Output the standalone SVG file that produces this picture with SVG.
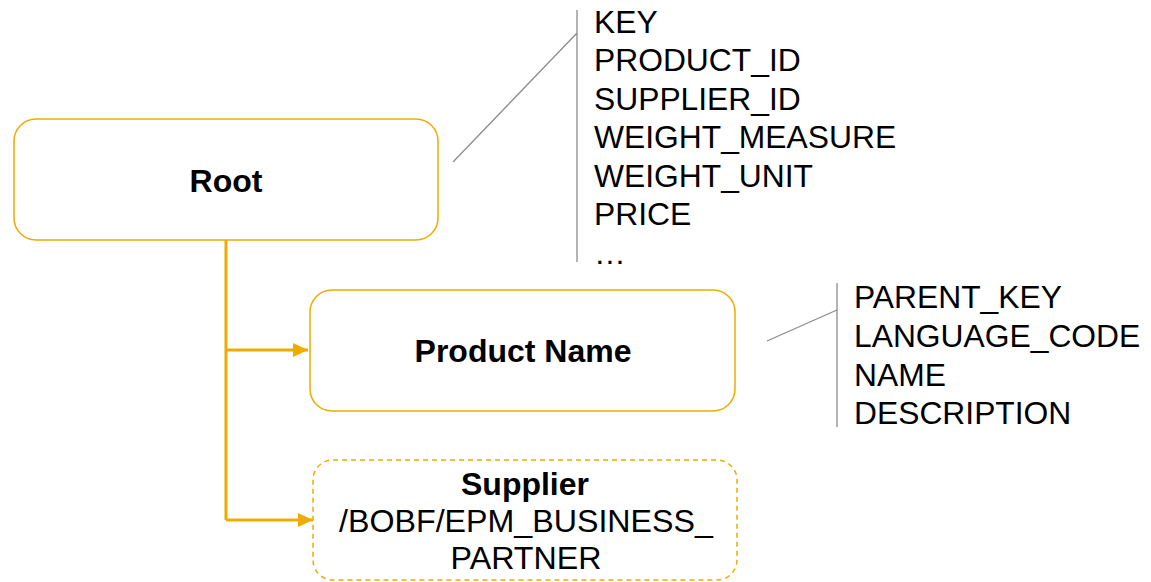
<svg xmlns="http://www.w3.org/2000/svg" width="1151" height="582" viewBox="0 0 1151 582">
<defs>
<style>
.box{fill:#fff;stroke:#F0AB00;stroke-width:1.5}
.dash{stroke-dasharray:5 4}
.conn{fill:none;stroke:#F0AB00;stroke-width:3}
.lead{fill:none;stroke:#8C8C8C;stroke-width:1.3}
.t{font-family:"Liberation Sans",Arial,sans-serif;font-size:31.8px;fill:#000}
.b{font-family:"Liberation Sans",Arial,sans-serif;font-size:32px;font-weight:bold;fill:#000;text-anchor:middle}
.m{text-anchor:middle;font-size:32.2px}
</style>
<marker id="arr" markerWidth="16" markerHeight="16" viewBox="0 0 16 16" refX="15" refY="8" orient="auto" markerUnits="userSpaceOnUse">
<path d="M0,1 L15,8 L0,15 Z" fill="#F0AB00"/>
</marker>
</defs>
<g id="connectors">
<path class="conn" d="M226,240 V520"/>
<path class="conn" d="M226,350 H308" marker-end="url(#arr)"/>
<path class="conn" d="M226,520 H313" marker-end="url(#arr)"/>
</g>
<g id="root">
<rect class="box" x="14" y="119" width="424" height="121" rx="22"/>
<text class="b" x="226" y="192">Root</text>
</g>
<g id="product-name">
<rect class="box" x="310" y="290" width="425" height="121" rx="22"/>
<text class="b" x="523" y="362">Product Name</text>
</g>
<g id="supplier">
<rect class="box dash" x="313" y="460" width="424" height="120" rx="20"/>
<text class="b" x="525" y="495">Supplier</text>
<text class="t m" x="526" y="532">/BOBF/EPM_BUSINESS_</text>
<text class="t m" x="526" y="569">PARTNER</text>
</g>
<g id="root-fields">
<path class="lead" d="M577,10 V262 M453,162 L577,33"/>
<text class="t" x="594" y="33">KEY</text>
<text class="t" x="594" y="71">PRODUCT_ID</text>
<text class="t" x="594" y="110">SUPPLIER_ID</text>
<text class="t" x="594" y="148">WEIGHT_MEASURE</text>
<text class="t" x="594" y="187">WEIGHT_UNIT</text>
<text class="t" x="594" y="225">PRICE</text>
<text class="t" x="594" y="264">…</text>
</g>
<g id="product-name-fields">
<path class="lead" d="M837,283 V427 M767,341 L837,310"/>
<text class="t" x="854" y="308">PARENT_KEY</text>
<text class="t" x="854" y="347">LANGUAGE_CODE</text>
<text class="t" x="854" y="386">NAME</text>
<text class="t" x="854" y="424">DESCRIPTION</text>
</g>
</svg>
